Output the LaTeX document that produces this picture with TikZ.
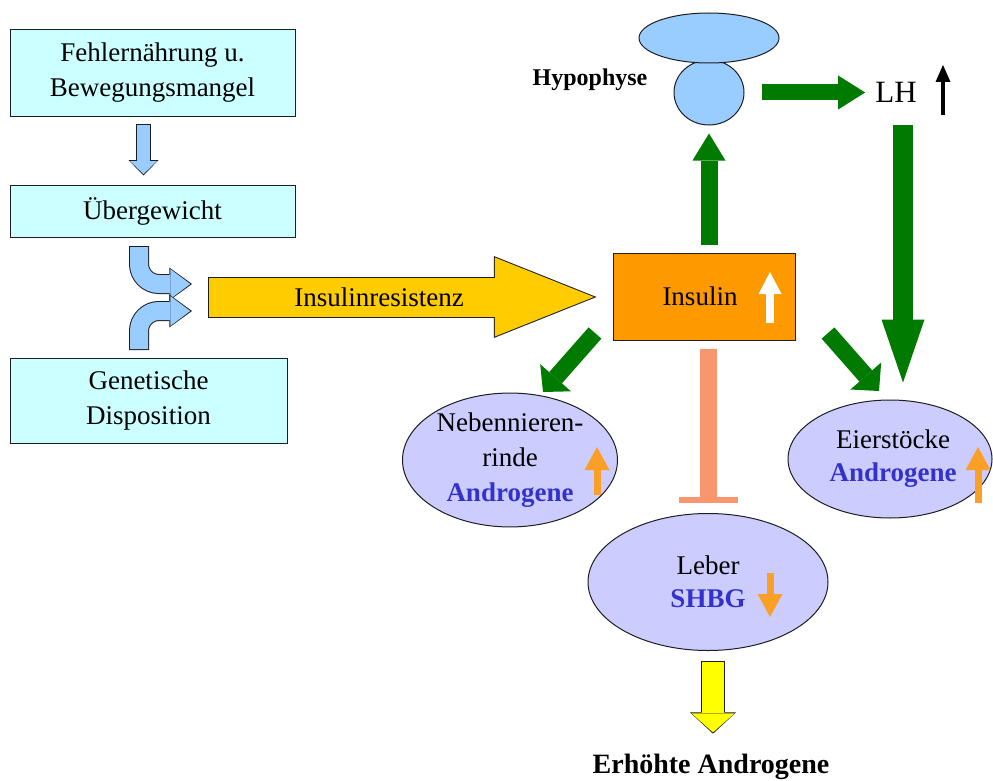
\documentclass[tikz,border=0pt]{standalone}
\usepackage{fontspec}
\setmainfont{Liberation Serif}
\usetikzlibrary{arrows.meta,shapes.geometric,calc}
\definecolor{cyanbox}{RGB}{204,255,255}
\definecolor{lblue}{RGB}{153,204,255}
\definecolor{ryellow}{RGB}{255,204,0}
\definecolor{insorange}{RGB}{255,153,0}
\definecolor{lav}{RGB}{204,204,255}
\definecolor{tblue}{RGB}{51,51,204}
\definecolor{salmon}{RGB}{250,150,110}
\definecolor{byellow}{RGB}{255,255,0}
\definecolor{ggreen}{RGB}{0,122,0}
\definecolor{smallorange}{RGB}{250,160,40}
\definecolor{edge}{RGB}{30,30,30}
\begin{document}
\begin{tikzpicture}[x=1pt,y=-1pt,
  every node/.style={font=\fontsize{27}{35}\selectfont},
  box/.style={draw=edge, line width=1pt, fill=cyanbox, inner sep=0pt, align=center},
  organ/.style={ellipse, draw=edge, line width=1pt, fill=lav, inner sep=0pt, align=center},
  garrow/.style n args={3}{draw=ggreen, line width=#1, -{Triangle[length=#2, width=#3, line width=0pt]}},
  sorange/.style={draw=smallorange, line width=7pt, -{Triangle[length=23pt, width=25pt, line width=0pt]}},
  tstem/.style={draw=salmon, line width=17pt},
  tbarline/.style={draw=salmon, line width=6pt}
]
\fill[white] (0,0) rectangle (993,781);
\useasboundingbox (0,0) rectangle (993,781);

% left boxes
\node[box, minimum width=285pt, minimum height=87pt] (b1) at (152.5,73) {Fehlernährung u.\\Bewegungsmangel};
\node[box, minimum width=285pt, minimum height=52pt] (b2) at (152.5,211) {Übergewicht};
\node[box, minimum width=277pt, minimum height=85pt] (b3) at (148.5,400.5) {Genetische\\Disposition};

% insulin box
\node[draw=edge, line width=1pt, fill=insorange, minimum width=182pt, minimum height=87pt, inner sep=0pt] (ins) at (704,296.5) {Insulin\hspace*{8pt}};
\coordinate (insup) at (770,323);
\draw[draw=white, line width=8pt, -{Triangle[length=22pt, width=23pt, line width=0pt]}] (insup) -- ++(0,-51);

% hypophyse
\node[ellipse, draw=edge, line width=1pt, fill=lblue, minimum width=70pt, minimum height=65pt, inner sep=0pt] (hypB) at (709,92.5) {};
\node[ellipse, draw=edge, line width=1pt, fill=lblue, minimum width=140pt, minimum height=50pt, inner sep=0pt] (hypA) at (709,38) {};
\node[font=\fontsize{24}{29}\selectfont\bfseries] (hyptext) at (590,80) {Hypophyse};

% LH
\node[font=\fontsize{31}{36}\selectfont, inner sep=0pt] (lh) at (896,92) {LH};
\coordinate (lhup) at (943,115);
\draw[draw=black, line width=3.5pt, -{Triangle[length=17pt, width=15pt, line width=0pt]}] (lhup) -- ++(0,-50);

% organs
\node[organ, minimum width=215pt, minimum height=115pt] (neb) at (510,460) {Nebennieren-\\rinde\\\textcolor{tblue}{\textbf{Androgene}}};
\node[organ, minimum width=204pt, minimum height=118pt, font=\fontsize{27}{33}\selectfont] (eier) at (890,459) {\hspace*{6pt}Eierstöcke\\\hspace*{6pt}\textcolor{tblue}{\textbf{Androgene}}};
\node[organ, minimum width=240pt, minimum height=137pt, font=\fontsize{27}{33}\selectfont] (leber) at (708,582) {Leber\\\textcolor{tblue}{\textbf{SHBG}}};

\coordinate (nebA) at (597,495);
\draw[sorange] (nebA) -- ++(0,-48);
\coordinate (eierA) at (978,503);
\draw[sorange] (eierA) -- ++(0,-56);
\coordinate (lebA) at (770,573);
\draw[sorange] (lebA) -- ++(0,44);

% result label
\node[font=\fontsize{28}{34}\selectfont\bfseries] (erh) at (711,767) {Erhöhte Androgene};

% green arrows
\draw[garrow={17pt}{27pt}{33pt}, shorten <=8pt, shorten >=8pt] (ins.north -| hypB) -- (hypB.south);
\draw[garrow={16pt}{27pt}{34pt}, shorten <=17pt, shorten >=10pt] (hypB.east) -- (hypB.east -| lh.west);
\coordinate (lhd) at (903,125);
\draw[garrow={20pt}{63pt}{43pt}, shorten >=17pt] (lhd) -- (lhd |- eier.north);
\coordinate (d1s) at (595,333);
\coordinate (d1e) at (543,392);
\draw[garrow={17pt}{19pt}{41pt}] (d1s) -- (d1e);
\coordinate (d2s) at (828,333);
\coordinate (d2e) at (879,391);
\draw[garrow={17pt}{20pt}{41pt}] (d2s) -- (d2e);

% inhibition T
\coordinate (tb) at ($(leber.north)+(0,-13)$);
\draw[tstem, shorten <=8pt] (ins.south -| tb) -- (tb);
\draw[tbarline] ($(tb)+(-29.5,0)$) -- ($(tb)+(29.5,0)$);

% blue down arrow
\draw[draw=edge, line width=15pt, shorten <=7.5pt, shorten >=9pt, -{Triangle[length=15.4pt, width=30pt, line width=0pt]}] ([xshift=-9pt]b1.south) -- ([xshift=-9pt]b2.north);
\draw[draw=lblue, line width=13pt, shorten <=8.5pt, shorten >=10.4pt, -{Triangle[length=13pt, width=27pt, line width=0pt]}] ([xshift=-9pt]b1.south) -- ([xshift=-9pt]b2.north);

% curved blue arrows
\coordinate (m1) at (192,284);
\coordinate (m2) at (192,311);
\draw[draw=edge, line width=20pt, rounded corners=20pt, shorten <=8.5pt, -{Triangle[length=22.7pt, width=33pt, line width=0pt]}] ([xshift=-13.5pt]b2.south) |- (m1);
\draw[draw=lblue, line width=18pt, rounded corners=20pt, shorten <=9.5pt, shorten >=1.7pt, -{Triangle[length=20pt, width=30pt, line width=0pt]}] ([xshift=-13.5pt]b2.south) |- (m1);
\draw[draw=edge, line width=20pt, rounded corners=20pt, shorten <=7.5pt, -{Triangle[length=22.7pt, width=33pt, line width=0pt]}] ([xshift=-9.5pt]b3.north) |- (m2);
\draw[draw=lblue, line width=18pt, rounded corners=20pt, shorten <=8.5pt, shorten >=1.7pt, -{Triangle[length=20pt, width=30pt, line width=0pt]}] ([xshift=-9.5pt]b3.north) |- (m2);

% yellow Insulinresistenz arrow
\coordinate (irs) at (208,297);
\draw[draw=edge, line width=41pt, shorten >=16pt, -{Triangle[length=102.7pt, width=82pt, line width=0pt]}] (irs) -- (irs -| ins.west);
\draw[draw=ryellow, line width=39pt, shorten <=1pt, shorten >=18.7pt, -{Triangle[length=99pt, width=79pt, line width=0pt]}] (irs) -- (irs -| ins.west);
\node (irtext) at (379,297) {Insulinresistenz};

% yellow down arrow
\coordinate (ys) at ([xshift=5pt]leber.south);
\draw[draw=edge, line width=24pt, shorten <=9.5pt, shorten >=17pt, -{Triangle[length=21.3pt, width=46pt, line width=0pt]}] (ys) -- (ys |- erh.north);
\draw[draw=byellow, line width=22pt, shorten <=10.5pt, shorten >=18.3pt, -{Triangle[length=19pt, width=43pt, line width=0pt]}] (ys) -- (ys |- erh.north);
\end{tikzpicture}
\end{document}
